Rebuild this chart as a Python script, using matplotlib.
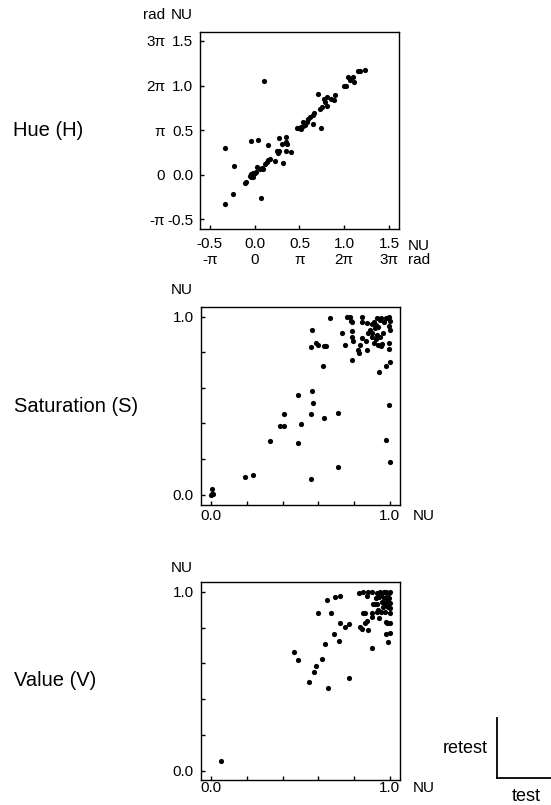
import numpy as np
import matplotlib
matplotlib.use('Agg')
import matplotlib.pyplot as plt

plt.rcParams['font.family'] = ['Liberation Sans', 'DejaVu Sans']
plt.rcParams['axes.unicode_minus'] = False

# Hue (H), test vs retest, in NU (1 NU = 2 pi rad)
hue_test = [-0.336, 0.107, -0.232, -0.239, -0.336, 0.074, -0.038, 0.036, 0.144, 0.275,
            0.349, 0.349, 0.300, 0.357, 0.319, 0.349, 0.409, 0.245, 0.275, 0.264,
            0.223, 0.152, 0.170, 0.133, 0.115, 0.029, 0.077, 0.096, 0.060, 0.010,
            -0.016, -0.046, -0.053, -0.023, -0.038, -0.098, -0.105, 0.000,
            0.468, 0.498, 0.520, 0.535, 0.513, 0.561, 0.580, 0.617, 0.647, 0.666,
            0.710, 0.737, 0.729, 0.748, 0.774, 0.785, 0.804, 0.804, 0.848, 0.886,
            0.897, 0.997, 1.016, 1.046, 1.064, 1.094, 1.109, 1.157, 1.176, 1.236,
            0.655, 0.600, 0.543, 0.487]
hue_retest = [0.302, 1.052, 0.101, -0.213, -0.332, -0.265, 0.373, 0.384, 0.332, 0.414,
              0.418, 0.369, 0.343, 0.343, 0.127, 0.269, 0.254, 0.269, 0.269, 0.246,
              0.149, 0.164, 0.172, 0.146, 0.116, 0.090, 0.078, 0.060, 0.065, 0.034,
              0.015, 0.007, -0.015, -0.022, -0.030, -0.086, -0.094, 0.020,
              0.519, 0.526, 0.537, 0.586, 0.511, 0.556, 0.593, 0.649, 0.563, 0.687,
              0.910, 0.519, 0.731, 0.761, 0.854, 0.817, 0.769, 0.873, 0.854, 0.836,
              0.892, 0.993, 0.993, 1.090, 1.060, 1.090, 1.041, 1.160, 1.168, 1.179,
              0.668, 0.620, 0.545, 0.519]

# Saturation (S)
sat_test = [0.000, 0.007, 0.013, 0.004, 0.190, 0.237, 0.331, 0.384, 0.410, 0.410,
            0.488, 0.488, 0.501, 0.557, 0.566, 0.572, 0.562, 0.633, 0.713, 0.711,
            0.628, 0.557, 0.566, 0.590, 0.600, 0.631, 0.642, 0.665, 0.734, 0.752,
            0.758, 0.777, 0.782, 0.791, 0.790, 0.791, 0.795, 0.791, 0.823, 0.827,
            0.832, 0.842, 0.842, 0.842, 0.866, 0.873, 0.879, 0.875, 0.888, 0.898,
            0.903, 0.903, 0.911, 0.912, 0.916, 0.920, 0.926, 0.929, 0.935, 0.939,
            0.944, 0.950, 0.953, 0.955, 0.963, 0.968, 0.978, 0.981, 0.978, 0.991,
            0.996, 1.000, 0.996, 1.000, 0.996, 0.996, 1.000, 0.996, 1.000, 0.935,
            0.920, 0.944]
sat_retest = [-0.004, 0.030, 0.004, 0.002, 0.099, 0.109, 0.301, 0.384, 0.384, 0.455,
              0.290, 0.558, 0.397, 0.451, 0.581, 0.513, 0.090, 0.433, 0.457, 0.157,
              0.725, 0.828, 0.923, 0.850, 0.841, 0.833, 0.833, 0.994, 0.910, 0.839,
              0.998, 0.996, 0.976, 0.968, 0.918, 0.888, 0.865, 0.757, 0.813, 0.798,
              0.841, 0.878, 0.998, 0.972, 0.861, 0.966, 0.910, 0.813, 0.925, 0.888,
              0.958, 0.906, 0.972, 0.854, 0.934, 0.873, 0.897, 0.994, 0.841, 0.691,
              0.888, 0.835, 0.991, 0.846, 0.906, 0.968, 0.991, 0.725, 0.305, 0.991,
              1.000, 0.978, 0.948, 0.925, 0.850, 0.816, 0.747, 0.502, 0.184, 0.944,
              0.953, 0.981]

# Value (V)
val_test = [0.056, 0.462, 0.486, 0.546, 0.577, 0.590, 0.622, 0.637, 0.655, 0.598,
            0.646, 0.669, 0.687, 0.693, 0.715, 0.721, 0.723, 0.747, 0.769, 0.769,
            0.827, 0.832, 0.842, 0.851, 0.851, 0.862, 0.862, 0.873, 0.879, 0.875,
            0.879, 0.898, 0.903, 0.903, 0.903, 0.907, 0.916, 0.920, 0.926, 0.929,
            0.935, 0.940, 0.944, 0.950, 0.953, 0.957, 0.963, 0.966, 0.966, 0.972,
            0.976, 0.976, 0.981, 0.981, 0.981, 0.985, 0.991, 0.994, 0.996, 1.000,
            1.000, 1.000, 1.000, 1.000, 1.000, 0.991, 0.991, 0.972, 0.937, 0.926,
            0.953]
val_retest = [0.056, 0.663, 0.618, 0.497, 0.553, 0.585, 0.626, 0.706, 0.464, 0.879,
              0.955, 0.879, 0.765, 0.968, 0.726, 0.976, 0.825, 0.803, 0.819, 0.516,
              0.991, 0.804, 0.790, 1.000, 0.879, 0.879, 0.827, 0.836, 1.000, 0.976,
              0.786, 1.000, 0.879, 0.860, 0.683, 0.929, 0.929, 0.963, 0.888, 0.933,
              0.898, 0.855, 1.000, 0.981, 0.888, 0.942, 0.916, 1.000, 0.963, 0.888,
              0.832, 0.762, 1.000, 0.972, 0.926, 0.823, 0.719, 0.991, 0.963, 1.000,
              0.935, 0.907, 0.879, 0.823, 0.771, 0.953, 0.916, 0.935, 0.972, 0.991,
              0.991]

hue_ticks = [-0.5, 0.0, 0.5, 1.0, 1.5]
hue_nu_labels = ['-0.5', '0.0', '0.5', '1.0', '1.5']
hue_rad_labels = ['-\u03c0', '0', '\u03c0', '2\u03c0', '3\u03c0']
unit_ticks = [0.0, 0.2, 0.4, 0.6, 0.8, 1.0]
unit_labels = ['0.0', '', '', '', '', '1.0']
row_names = ['Hue (H)', 'Saturation (S)', 'Value (V)']

fs_tick = 11
fs_name = 14.5
fs_key = 13
dot = 14

fig = plt.figure(figsize=(5.51, 8.05), dpi=100)
ax1 = fig.add_axes([0.363, 0.7155, 0.361, 0.2447])
ax2 = fig.add_axes([0.364, 0.3723, 0.3617, 0.2467])
ax3 = fig.add_axes([0.364, 0.0311, 0.3617, 0.2463])

def style(ax, xpad, ypad):
    for sp in ax.spines.values():
        sp.set_linewidth(1.0)
    ax.tick_params(direction='in', length=3, width=1, labelsize=fs_tick,
                   top=False, right=False)
    ax.tick_params(axis='x', pad=xpad)
    ax.tick_params(axis='y', pad=ypad)

# Hue
ax1.scatter(hue_test, hue_retest, s=dot, c='k', linewidths=0)
ax1.set_xlim(-0.61, 1.61)
ax1.set_ylim(-0.61, 1.60)
ax1.set_xticks(hue_ticks)
ax1.set_xticklabels(hue_nu_labels)
ax1.set_yticks(hue_ticks)
ax1.set_yticklabels(hue_nu_labels)
style(ax1, 5.8, 5)
secx = ax1.secondary_xaxis('bottom')
secx.set_xticks(hue_ticks)
secx.set_xticklabels(hue_rad_labels)
secx.tick_params(length=0, labelsize=fs_tick, pad=17)
secx.spines['bottom'].set_visible(False)
secy = ax1.secondary_yaxis('left')
secy.set_yticks(hue_ticks)
secy.set_yticklabels(hue_rad_labels)
secy.tick_params(length=0, labelsize=fs_tick, pad=25)
secy.spines['left'].set_visible(False)

ax1.annotate('NU', xy=(0, 1), xycoords='axes fraction', xytext=(-7, 17),
             textcoords='offset pixels', ha='right', va='center', fontsize=fs_tick)
ax1.annotate('rad', xy=(0, 1), xycoords='axes fraction', xytext=(-35, 17),
             textcoords='offset pixels', ha='right', va='center', fontsize=fs_tick)
ax1.annotate('NU', xy=(1, 0), xycoords='axes fraction', xytext=(9, -17),
             textcoords='offset pixels', ha='left', va='center', fontsize=fs_tick)
ax1.annotate('rad', xy=(1, 0), xycoords='axes fraction', xytext=(9, -31),
             textcoords='offset pixels', ha='left', va='center', fontsize=fs_tick)

# Saturation and Value
for ax, xs, ys, yb, xpad, nu_dy, nu_dx in [(ax2, sat_test, sat_retest, -0.06, 2.5, 17, -11),
                                           (ax3, val_test, val_retest, -0.052, 0.5, 14, -8)]:
    ax.scatter(xs, ys, s=dot, c='k', linewidths=0)
    ax.set_xlim(-0.058, 1.056)
    ax.set_ylim(yb, 1.056)
    ax.set_xticks(unit_ticks)
    ax.set_xticklabels(unit_labels)
    ax.set_yticks(unit_ticks)
    ax.set_yticklabels(unit_labels)
    style(ax, xpad, 5)
    ax.annotate('NU', xy=(0, 1), xycoords='axes fraction', xytext=(-8, nu_dy),
                textcoords='offset pixels', ha='right', va='center', fontsize=fs_tick)
    ax.annotate('NU', xy=(1, 0), xycoords='axes fraction', xytext=(13, nu_dx),
                textcoords='offset pixels', ha='left', va='center', fontsize=fs_tick)

# row names
for ax, name in zip([ax1, ax2, ax3], row_names):
    ax.annotate(name, xy=(0, 0.5), xycoords='axes fraction', xytext=(-187, 0),
                textcoords='offset pixels', ha='left', va='center', fontsize=fs_name)

# axis key: retest vs test
key = fig.add_axes([497 / 551, 1 - 778 / 805, 54 / 551, 60 / 805])
key.set_xticks([])
key.set_yticks([])
key.spines['top'].set_visible(False)
key.spines['right'].set_visible(False)
key.spines['left'].set_linewidth(1.3)
key.spines['bottom'].set_linewidth(1.3)
key.patch.set_alpha(0)
key.annotate('retest', xy=(0, 0.5), xycoords='axes fraction', xytext=(-9, 0),
             textcoords='offset pixels', ha='right', va='center', fontsize=fs_key)
key.annotate('test', xy=(0.55, 0), xycoords='axes fraction', xytext=(0, -18),
             textcoords='offset pixels', ha='center', va='center', fontsize=fs_key)

fig.savefig('out.png', dpi=100)
